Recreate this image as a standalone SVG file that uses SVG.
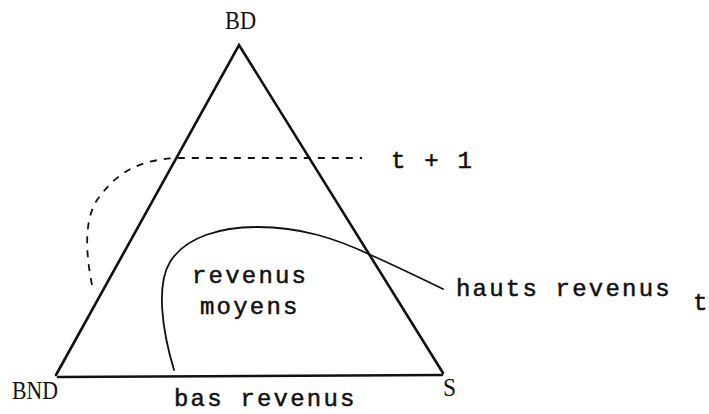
<svg xmlns="http://www.w3.org/2000/svg" width="709" height="414" viewBox="0 0 709 414">
<style>
.edge{fill:none;stroke:#111;stroke-width:2.6;stroke-linecap:round;stroke-linejoin:miter}
.curve{fill:none;stroke:#111;stroke-width:1.8;stroke-linecap:round}
.dash{fill:none;stroke:#111;stroke-width:1.8;stroke-dasharray:7 7}
.tw{font-family:"Liberation Mono","DejaVu Sans Mono",monospace;font-size:24px;letter-spacing:2.2px;fill:#111;stroke:#111;stroke-width:0.5}
.lab{font-family:"Liberation Serif","Times New Roman",serif;font-size:25px;fill:#111}
</style>
<rect width="709" height="414" fill="#fff"/>
<g id="triangle">
<path class="edge" d="M56,375 L239,45 L443,373"/>
<path class="edge" d="M58,377 L442,375"/>
</g>
<g id="connectors">
<path id="curve-t1" class="dash" d="M92,285 C85,250 84,215 100,196 C118,172 140,159 180,158 L362,158"/>
<path id="curve-t" class="curve" d="M174,370 C162,330 156,285 170,262 C186,236 222,227 258,227 C300,227 335,238 373,256 C400,268 420,278 443,289"/>
</g>
<g id="node-BD"><text class="lab" x="225" y="29" textLength="31" lengthAdjust="spacingAndGlyphs">BD</text></g>
<g id="node-BND"><text class="lab" x="12" y="399" textLength="46" lengthAdjust="spacingAndGlyphs">BND</text></g>
<g id="node-S"><text class="lab" x="443" y="396" textLength="13" lengthAdjust="spacingAndGlyphs">S</text></g>
<g id="label-t1"><text class="tw" x="391" y="168">t + 1</text></g>
<g id="label-moyens"><text class="tw" x="192" y="283">revenus</text><text class="tw" x="200" y="314">moyens</text></g>
<g id="label-hauts"><text class="tw" x="456" y="296">hauts revenus</text></g>
<g id="label-t"><text class="tw" x="693" y="310">t</text></g>
<g id="label-bas"><text class="tw" x="174" y="406">bas revenus</text></g>
</svg>
